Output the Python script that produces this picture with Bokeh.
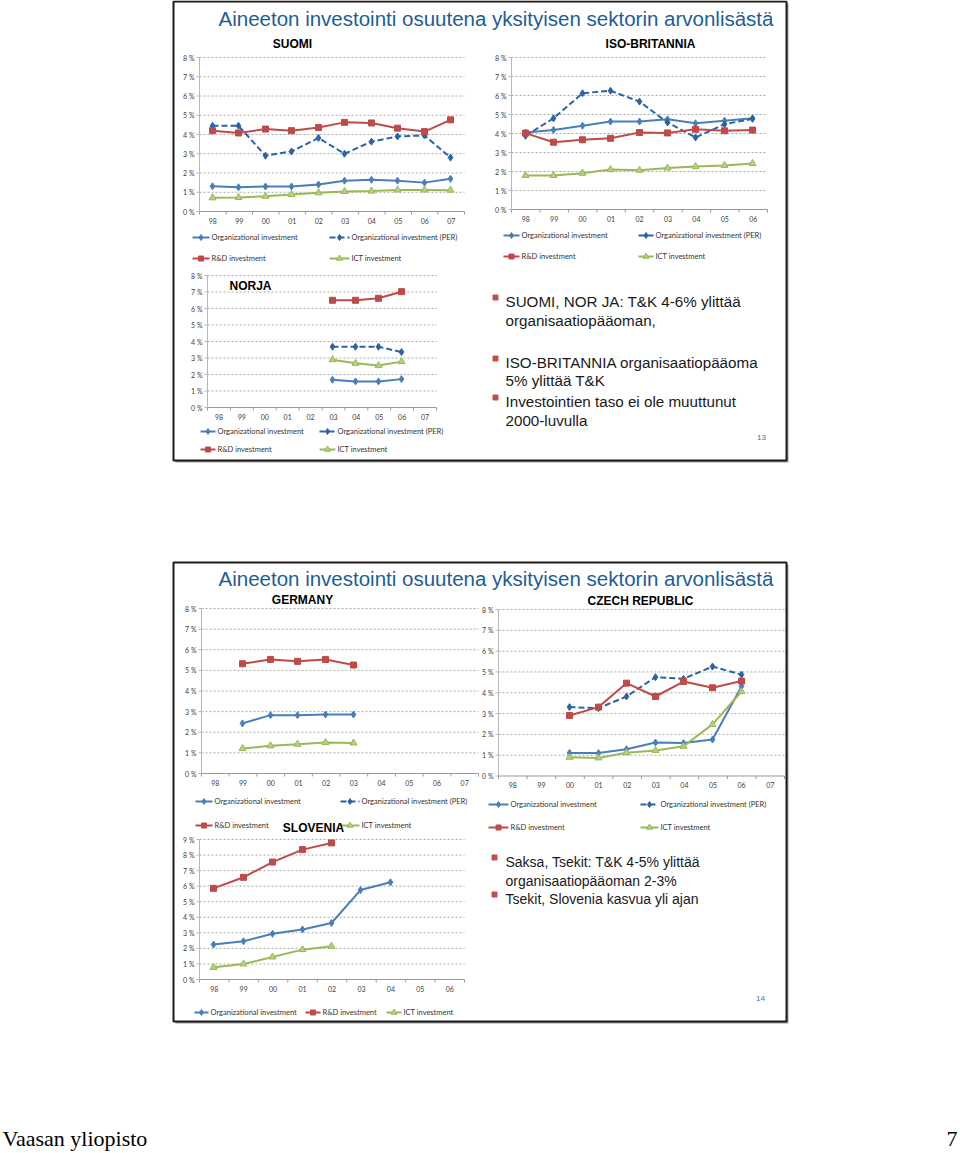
import numpy as np
from bokeh.plotting import figure
from bokeh.models import Range1d
from bokeh.core.properties import value
from bokeh.embed import file_html
from bokeh.resources import INLINE

nan = float("nan")

# ---------------- data ----------------
years_10 = ["98", "99", "00", "01", "02", "03", "04", "05", "06", "07"]
years_9 = ["98", "99", "00", "01", "02", "03", "04", "05", "06"]
pct_8 = ["0 %", "1 %", "2 %", "3 %", "4 %", "5 %", "6 %", "7 %", "8 %"]
pct_9 = ["0 %", "1 %", "2 %", "3 %", "4 %", "5 %", "6 %", "7 %", "8 %", "9 %"]

suomi_org = [1.31, 1.26, 1.30, 1.30, 1.40, 1.60, 1.65, 1.60, 1.50, 1.70]
suomi_per = [4.45, 4.45, 2.90, 3.12, 3.82, 3.00, 3.63, 3.90, 3.95, 2.80]
suomi_rd = [4.20, 4.08, 4.28, 4.20, 4.36, 4.63, 4.60, 4.33, 4.15, 4.76]
suomi_ict = [0.71, 0.73, 0.79, 0.88, 0.97, 1.04, 1.06, 1.12, 1.12, 1.11]

uk_org = [4.05, 4.19, 4.41, 4.63, 4.63, 4.75, 4.54, 4.67, 4.80]
uk_per = [3.88, 4.80, 6.12, 6.25, 5.68, 4.58, 3.79, 4.49, 4.77]
uk_rd = [4.02, 3.54, 3.67, 3.75, 4.05, 4.03, 4.22, 4.14, 4.18]
uk_ict = [1.79, 1.79, 1.91, 2.10, 2.07, 2.18, 2.26, 2.32, 2.42]

no_org = [nan, nan, nan, nan, nan, 1.68, 1.58, 1.58, 1.72, nan]
no_per = [nan, nan, nan, nan, nan, 3.68, 3.68, 3.68, 3.36, nan]
no_rd = [nan, nan, nan, nan, nan, 6.50, 6.50, 6.62, 7.02, nan]
no_ict = [nan, nan, nan, nan, nan, 2.90, 2.68, 2.54, 2.78, nan]

de_org = [nan, 2.43, 2.83, 2.83, 2.86, 2.86, nan, nan, nan, nan]
de_rd = [nan, 5.32, 5.53, 5.44, 5.53, 5.26, nan, nan, nan, nan]
de_ict = [nan, 1.21, 1.34, 1.42, 1.50, 1.48, nan, nan, nan, nan]

cz_org = [nan, nan, 1.11, 1.10, 1.29, 1.61, 1.58, 1.75, 4.30, nan]
cz_per = [nan, nan, 3.31, 3.26, 3.82, 4.75, 4.67, 5.26, 4.87, nan]
cz_rd = [nan, nan, 2.91, 3.31, 4.46, 3.82, 4.54, 4.24, 4.56, nan]
cz_ict = [nan, nan, 0.90, 0.87, 1.12, 1.23, 1.43, 2.48, 4.06, nan]

si_org = [2.25, 2.46, 2.94, 3.22, 3.63, 5.75, 6.25, nan, nan]
si_rd = [5.86, 6.57, 7.55, 8.35, 8.78, nan, nan, nan, nan]
si_ict = [0.78, 1.00, 1.45, 1.92, 2.14, nan, nan, nan, nan]

slide_title = "Aineeton investointi osuutena yksityisen sektorin arvonlisästä"
slide1_lines = ["SUOMI, NOR JA: T&K 4-6% ylittää", "organisaatiopääoman,",
                "ISO-BRITANNIA  organisaatiopääoma", "5% ylittää T&K",
                "Investointien taso ei ole muuttunut", "2000-luvulla"]
slide2_lines = ["Saksa, Tsekit: T&K 4-5% ylittää", "organisaatiopääoman  2-3%",
                "Tsekit, Slovenia kasvua yli ajan"]

# ---------------- styles ----------------
ORG_C = "#4a7ebb"
PER_C = "#2a63a6"
RD_C = "#be4b48"
ICT_C = "#98b954"
ICT_FILL = "#b5d083"
GRID_C = "#a8a8a8"
AXIS_C = "#b8b8b8"
TXT_C = "#404040"
TITLE_C = "#1d5d97"
SMALL_FONT = value("Lato")
SLIDE_FONT = value("Liberation Sans")

STYLE = {
    "org": dict(color=ORG_C, dash="solid", marker="diamond", size=7, fill=ORG_C),
    "per": dict(color=PER_C, dash="6 3", marker="diamond", size=7, fill=PER_C),
    "rd": dict(color=RD_C, dash="solid", marker="square", size=6, fill=RD_C),
    "ict": dict(color=ICT_C, dash="solid", marker="triangle", size=7, fill=ICT_FILL),
}
LABELS = {"org": "Organizational investment", "per": "Organizational investment (PER)",
          "rd": "R&D investment", "ict": "ICT investment"}

p = figure(width=960, height=1153, x_range=Range1d(0, 960), y_range=Range1d(1153, 0),
           output_backend="svg", toolbar_location=None, min_border=0,
           x_axis_type=None, y_axis_type=None)
p.grid.visible = False
p.outline_line_color = None
p.background_fill_color = "white"
p.border_fill_color = "white"


def chart(cats, ylabels, series, xt, yt):
    n = len(cats)
    ymax = len(ylabels) - 1
    sub = p.subplot(x_source=Range1d(-0.5, n - 0.5), y_source=Range1d(0, ymax),
                    x_target=Range1d(*xt), y_target=Range1d(*yt))
    lv = list(range(1, ymax + 1))
    sub.segment(x0=[-0.5] * ymax, x1=[n - 0.5] * ymax, y0=lv, y1=lv,
                line_color=GRID_C, line_width=1, line_dash="2 2")
    sub.segment(x0=[-0.5], x1=[-0.5], y0=[0], y1=[ymax], line_color=AXIS_C, line_width=1)
    sub.segment(x0=[-0.5], x1=[n - 0.5], y0=[0], y1=[0], line_color="#9a9a9a", line_width=1)
    tk = 3.0 * ymax / abs(yt[0] - yt[1])
    bx = [i - 0.5 for i in range(n + 1)]
    sub.segment(x0=bx, x1=bx, y0=[0] * (n + 1), y1=[-tk] * (n + 1), line_color="#9a9a9a")
    yv = list(range(ymax + 1))
    tx = 3.0 * n / abs(xt[1] - xt[0])
    sub.segment(x0=[-0.5 - tx] * (ymax + 1), x1=[-0.5] * (ymax + 1), y0=yv, y1=yv,
                line_color=AXIS_C)
    sub.text(x=[-0.5] * (ymax + 1), y=yv, text=ylabels, x_offset=-5,
             text_align="right", text_baseline="middle", text_font=SMALL_FONT,
             text_font_size="7px", text_color=TXT_C)
    sub.text(x=list(range(n)), y=[0] * n, text=cats, y_offset=9,
             text_align="center", text_baseline="middle", text_font=SMALL_FONT,
             text_font_size="7px", text_color=TXT_C)
    xs = np.arange(n)
    for key, vals in series:
        st = STYLE[key]
        arr = np.array(vals, dtype=float)
        sub.line(x=xs, y=arr, line_color=st["color"], line_width=2, line_dash=st["dash"])
        sub.scatter(x=xs, y=arr, marker=st["marker"], size=st["size"],
                    fill_color=st["fill"], line_color=st["color"], line_width=1)


def legend(items):
    for key, x0, x1, y in items:
        st = STYLE[key]
        p.line(x=[x0, x1], y=[y, y], line_color=st["color"], line_width=2, line_dash=st["dash"])
        p.scatter(x=[(x0 + x1) / 2], y=[y], marker=st["marker"], size=st["size"] - 1,
                  fill_color=st["fill"], line_color=st["color"])
        p.text(x=[x1 + 2], y=[y], text=[LABELS[key]], text_align="left",
               text_baseline="middle", text_font=SMALL_FONT, text_font_size="7.5px",
               text_color="#333333")


def label(x, y, txt, size, bold=False, color="black", align="center", font=SLIDE_FONT):
    p.text(x=[x], y=[y], text=[txt], text_align=align, text_baseline="middle",
           text_font=font, text_font_size=size, text_color=color,
           text_font_style="bold" if bold else "normal")


# ---------------- slide frames ----------------
p.quad(left=[175, 175], right=[788, 788], top=[3, 564], bottom=[462, 1023],
       fill_color="#9a9a9a", line_color=None)
p.quad(left=[173, 173], right=[786, 786], top=[1, 562], bottom=[460, 1021],
       fill_color="white", line_color="#1a1a1a", line_width=2)

# ---------------- slide 1 ----------------
label(495.5, 18, slide_title, "20.5px", color=TITLE_C)

label(292, 43, "SUOMI", "12px", bold=True)
chart(years_10, pct_8, [("org", suomi_org), ("per", suomi_per), ("rd", suomi_rd), ("ict", suomi_ict)],
      (199, 464), (211, 57))
legend([("org", 192, 209, 237), ("per", 329, 349, 237), ("rd", 192, 209, 258), ("ict", 329, 349, 258)])

label(650, 43, "ISO-BRITANNIA", "12px", bold=True)
chart(years_9, pct_8, [("org", uk_org), ("per", uk_per), ("rd", uk_rd), ("ict", uk_ict)],
      (511, 767), (209, 57))
legend([("org", 503, 519, 235), ("per", 638, 653, 235), ("rd", 503, 519, 256), ("ict", 638, 653, 256)])

label(250, 285, "NORJA", "12px", bold=True)
chart(years_10, pct_8, [("org", no_org), ("per", no_per), ("rd", no_rd), ("ict", no_ict)],
      (207, 436), (407, 275))
legend([("org", 200, 215, 431), ("per", 319, 335, 431), ("rd", 200, 215, 449), ("ict", 319, 335, 449)])

ys1 = [301, 320, 362, 380, 401, 420]
for txt, yy in zip(slide1_lines, ys1):
    label(505, yy, txt, "15.2px", color="#1a1a1a", align="left")
p.scatter(x=[495, 495, 495], y=[297, 358, 397], marker="square", size=5,
          fill_color="#c0504d", line_color="#c0504d")
label(761, 437, "13", "8px", color="#4f6f9f")

# ---------------- slide 2 ----------------
label(495.5, 578, slide_title, "20.5px", color=TITLE_C)

label(640, 600, "CZECH REPUBLIC", "12px", bold=True)
chart(years_10, pct_8, [("org", cz_org), ("per", cz_per), ("rd", cz_rd), ("ict", cz_ict)],
      (498, 784), (775.5, 609))
legend([("org", 488, 508, 804), ("per", 640, 658, 804), ("rd", 488, 508, 827), ("ict", 640, 658, 827)])

# German chart area covers the left edge of the Czech labels
p.quad(left=[400], right=[479], top=[603], bottom=[780], fill_color="white", line_color=None)

label(302, 599, "GERMANY", "12px", bold=True)
chart(years_10, pct_8, [("org", de_org), ("rd", de_rd), ("ict", de_ict)],
      (201, 478), (773, 608))
legend([("org", 195, 212, 801), ("per", 340, 359, 801), ("rd", 195, 212, 825), ("ict", 340, 359, 825)])

label(313, 827, "SLOVENIA", "12px", bold=True)
chart(years_9, pct_9, [("org", si_org), ("rd", si_rd), ("ict", si_ict)],
      (199, 464), (979, 839))
legend([("org", 194, 208, 1012), ("rd", 305, 320, 1012), ("ict", 386, 401, 1012)])

ys2 = [861, 880, 898]
for txt, yy in zip(slide2_lines, ys2):
    label(505, yy, txt, "14px", color="#1a1a1a", align="left")
p.scatter(x=[494, 494], y=[857, 894], marker="square", size=5,
          fill_color="#c0504d", line_color="#c0504d")
label(760, 998, "14", "8px", color="#4f6f9f")

# ---------------- footer ----------------
label(2, 1138, "Vaasan yliopisto", "22px", align="left", font=value("Liberation Serif"))
label(957, 1138, "7", "22px", align="right", font=value("Liberation Serif"))

open("out.html", "w").write(file_html(p, INLINE))
